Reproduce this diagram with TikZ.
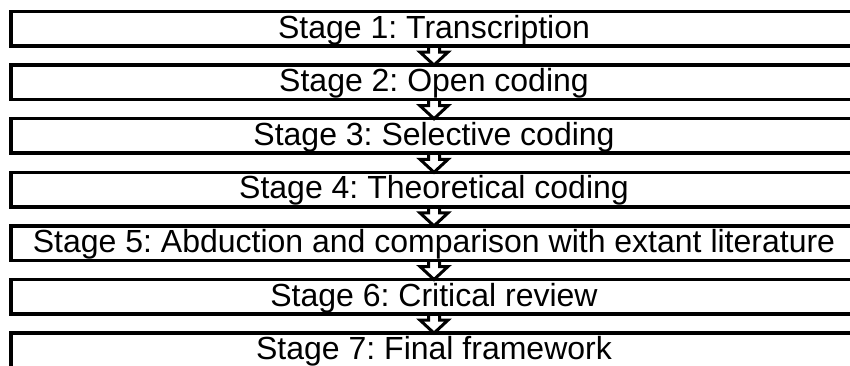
\documentclass[tikz,border=0pt]{standalone}
\usepackage{fontspec}
\setmainfont{Liberation Sans}
\usepackage{tikz}
\usetikzlibrary{calc, positioning}
\definecolor{StageBlack}{gray}{0}
\frenchspacing
\tikzset{%
  stage/.style={%
    rectangle,%
    draw=StageBlack,%
    line width=3.5pt,%
    minimum width=846pt,%
    inner sep=0pt,%
    outer sep=0pt,%
    text height=26.5pt,%
    text depth=8pt,%
    font={\fontsize{32}{32}\selectfont},%
  },
  stage_arrow/.style={%
    draw=StageBlack,%
    line width=3pt,%
    line join=miter,%
    to path={%
      let \p1=(\tikztostart), \p2=(\tikztotarget) in
      (\x1-5.5pt,\y1) -- (\x1-5.5pt,\y2+13pt) -- (\x1-14pt,\y2+13pt)
      -- (\x2,\y2) -- (\x1+14pt,\y2+13pt) -- (\x1+5.5pt,\y2+13pt)
      -- (\x1+5.5pt,\y1)
    },%
  },
}

\begin{document}
\begin{tikzpicture}[x=1pt, y=1pt]

    \useasboundingbox (0,0) rectangle (850,-365);

    \node [stage] (Stage1) at (434,-28.75) {Stage 1: Transcription};
    \node [stage, below = 19.1pt of Stage1] (Stage2) {Stage 2: Open coding};
    \node [stage, below = 19.1pt of Stage2] (Stage3) {Stage 3: Selective coding};
    \node [stage, below = 19.1pt of Stage3] (Stage4) {Stage 4: Theoretical coding};
    \node [stage, below = 19.1pt of Stage4] (Stage5) {Stage 5: Abduction and comparison with extant literature};
    \node [stage, below = 19.1pt of Stage5] (Stage6) {Stage 6: Critical review};
    \node [stage, below = 19.1pt of Stage6] (Stage7) {Stage 7: Final framework};

    \draw [stage_arrow]
      (Stage1.south)
      to
      (Stage2.north);
    \draw [stage_arrow]
      (Stage2.south)
      to
      (Stage3.north);
    \draw [stage_arrow]
      (Stage3.south)
      to
      (Stage4.north);
    \draw [stage_arrow]
      (Stage4.south)
      to
      (Stage5.north);
    \draw [stage_arrow]
      (Stage5.south)
      to
      (Stage6.north);
    \draw [stage_arrow]
      (Stage6.south)
      to
      (Stage7.north);

  \end{tikzpicture}
\end{document}
